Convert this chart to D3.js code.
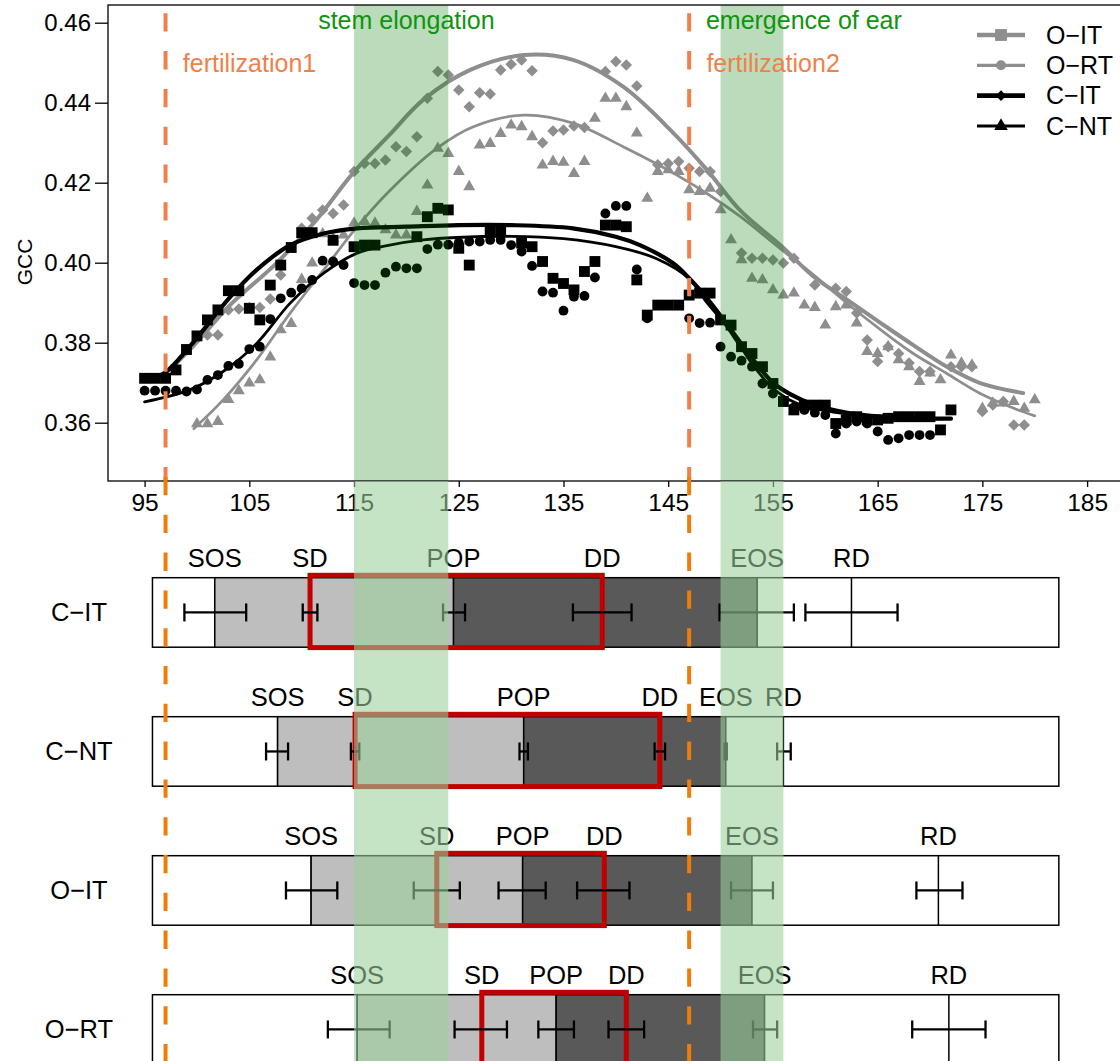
<!DOCTYPE html>
<html><head><meta charset="utf-8">
<script src="https://cdn.jsdelivr.net/npm/d3@7"></script>
<style>
body{margin:0;background:#fff}
svg{display:block}
text{font-family:"Liberation Sans",Arial,Helvetica,sans-serif}
</style>
</head><body>
<svg id="c" width="1120" height="1061"></svg>
<script>
// ---------------- DATA ----------------
const xTicks = [95,105,115,125,135,145,155,165,175,185];
const yTicks = [0.36,0.38,0.40,0.42,0.44,0.46];

const squarePts = [[95,0.3711],[96,0.3711],[97,0.3711],[98,0.3732],[99,0.3783],[100,0.3817],[101,0.3857],[102,0.3882],[103,0.3930],[104,0.3930],[105,0.3886],[106,0.3857],[107,0.3944],[108,0.3994],[109,0.4038],[110,0.4075],[111,0.4075],[113,0.4056],[115,0.4040],[116,0.4044],[117,0.4044],[121,0.4065],[122,0.4115],[123,0.4136],[124,0.4132],[125,0.4036],[126,0.3994],[128,0.4078],[129,0.4082],[131,0.4049],[132,0.4040],[133,0.4003],[134,0.3961],[135,0.3948],[136,0.3932],[137,0.3978],[138,0.4003],[139,0.4094],[140,0.4094],[141,0.4090],[142,0.3957],[143,0.3869],[144,0.3894],[145,0.3894],[146,0.3894],[147,0.3919],[148,0.3924],[149,0.3924],[150,0.3857],[151,0.3844],[152,0.3790],[153,0.3773],[154,0.3740],[155,0.3698],[156,0.3653],[157,0.3632],[158,0.3644],[159,0.3644],[160,0.3644],[161,0.3598],[162,0.3607],[163,0.3615],[164,0.3607],[165,0.3607],[166,0.3611],[167,0.3615],[168,0.3615],[169,0.3615],[170,0.3615],[171,0.3582],[172,0.3632]];

const circlePts = [[95,0.3680],[96,0.3680],[97,0.3680],[98,0.3680],[99,0.3678],[100,0.3683],[101,0.3707],[102,0.3719],[103,0.3742],[104,0.3747],[105,0.3784],[106,0.3790],[107,0.3859],[108,0.3911],[109,0.3925],[110,0.3936],[111,0.3957],[112,0.4005],[113,0.4003],[114,0.3994],[115,0.3949],[116,0.3944],[117,0.3944],[118,0.3975],[119,0.3990],[120,0.3986],[121,0.3986],[122,0.4034],[123,0.4045],[124,0.4045],[125,0.4050],[126,0.4053],[127,0.4053],[128,0.4057],[129,0.4057],[130,0.4044],[131,0.4028],[132,0.3992],[133,0.3928],[134,0.3925],[135,0.3880],[136,0.3915],[137,0.3917],[138,0.3963],[139,0.4123],[140,0.4142],[141,0.4142],[142,0.3983],[143,0.3861],[147,0.3861],[148,0.3849],[149,0.3850],[150,0.3790],[151,0.3765],[152,0.3755],[153,0.3740],[154,0.3698],[155,0.3673],[156,0.3653],[157,0.3638],[158,0.3632],[159,0.3625],[160,0.3619],[161,0.3573],[162,0.3598],[163,0.3603],[164,0.3598],[165,0.3578],[166,0.3557],[167,0.3561],[168,0.3569],[169,0.3569],[170,0.3569]];

const diamondPts = [[101,0.3819],[102,0.3819],[103,0.3882],[104,0.3884],[105,0.3888],[106,0.3888],[107,0.3909],[108,0.3969],[110,0.4086],[111,0.4111],[112,0.4132],[113,0.4123],[114,0.4144],[115,0.4228],[116,0.4248],[117,0.4248],[118,0.4257],[119,0.4290],[120,0.4278],[121,0.4315],[122,0.4411],[123,0.4478],[124,0.4469],[125,0.4432],[126,0.4390],[127,0.4425],[128,0.4422],[129,0.4482],[130,0.4496],[131,0.4507],[132,0.4480],[133,0.4300],[134,0.4329],[135,0.4332],[136,0.4342],[137,0.4338],[139,0.4478],[140,0.4503],[141,0.4494],[142,0.4442],[144,0.4245],[145,0.4248],[146,0.4253],[147,0.4236],[148,0.4228],[149,0.4228],[150,0.4178],[152,0.4024],[153,0.4011],[154,0.4011],[155,0.4007],[156,0.3999],[157,0.4011],[159,0.3944],[161,0.3936],[162,0.3928],[163,0.3874],[164,0.3807],[165,0.3753],[166,0.3790],[167,0.3773],[168,0.3749],[169,0.3728],[170,0.3728],[172,0.3740],[173,0.3740],[174,0.3740],[175,0.3628],[176,0.3644],[177,0.3653],[178,0.3594],[179,0.3594]];

const trianglePts = [[100,0.3597],[101,0.3597],[102,0.3603],[103,0.3658],[104,0.3680],[105,0.3699],[106,0.3707],[107,0.3764],[108,0.3832],[109,0.3848],[110,0.3958],[111,0.3999],[112,0.4072],[113,0.4061],[114,0.4069],[115,0.4099],[116,0.4103],[117,0.4099],[118,0.4082],[119,0.4069],[120,0.4069],[121,0.4128],[122,0.4194],[123,0.4286],[124,0.4273],[125,0.4228],[126,0.4190],[127,0.4294],[128,0.4298],[129,0.4323],[130,0.4344],[131,0.4340],[132,0.4315],[133,0.4244],[134,0.4253],[135,0.4251],[136,0.4223],[137,0.4253],[138,0.4361],[139,0.4411],[140,0.4411],[141,0.4390],[142,0.4324],[143,0.4161],[144,0.4228],[145,0.4232],[146,0.4228],[147,0.4182],[148,0.4178],[149,0.4186],[150,0.4132],[151,0.4057],[152,0.4007],[153,0.3961],[154,0.3957],[155,0.3932],[156,0.3919],[157,0.3924],[158,0.3894],[159,0.3888],[160,0.3844],[161,0.3890],[162,0.3894],[163,0.3849],[164,0.3778],[165,0.3773],[166,0.3790],[167,0.3757],[168,0.3740],[169,0.3703],[170,0.3724],[171,0.3707],[172,0.3769],[173,0.3749],[174,0.3744],[175,0.3636],[176,0.3649],[177,0.3649],[178,0.3653],[179,0.3636],[180,0.3657]];

// fitted curves
const curveGreyThick = [[97.5,0.3735],[99.6,0.3790],[103.2,0.3895],[107.6,0.3999],[111.4,0.4107],[114.9,0.4224],[118.4,0.4320],[121.6,0.4407],[126.1,0.4482],[131.2,0.4519],[135.9,0.4507],[140.7,0.4440],[145.5,0.4324],[148.7,0.4232],[151.9,0.4130],[155.7,0.4044],[158.9,0.3965],[162.1,0.3907],[165.3,0.3849],[168.4,0.3794],[171.6,0.3740],[174.8,0.3699],[178.9,0.3674]];
const curveGreyThin = [[99.7,0.3585],[102.5,0.3657],[105.7,0.3757],[108.9,0.3874],[112.1,0.3982],[115.3,0.4090],[118.4,0.4180],[122.9,0.4286],[126.4,0.4340],[131.2,0.4369],[135.9,0.4349],[140.7,0.4290],[145.5,0.4224],[148.7,0.4173],[151.9,0.4115],[155.7,0.4035],[158.9,0.3969],[162.1,0.3898],[165.3,0.3832],[168.4,0.3773],[171.6,0.3723],[174.8,0.3673],[178.0,0.3636],[180.0,0.3617]];
const curveBlackThick = [[95.5,0.3705],[97.1,0.3728],[99.3,0.3790],[103.2,0.3915],[105.7,0.3982],[108.9,0.4044],[112.1,0.4073],[115.3,0.4086],[120,0.4090],[125,0.4094],[130,0.4094],[135.9,0.4086],[140,0.4065],[142.3,0.4044],[145.5,0.3998],[147,0.3961],[148.7,0.3911],[150.3,0.3857],[151.9,0.3800],[153.5,0.3745],[155,0.3700],[156.6,0.3672],[158.9,0.3645],[162.1,0.3625],[165.3,0.3615],[168.4,0.3611],[172,0.3610]];
const curveBlackThin = [[95,0.3652],[99.3,0.3682],[102.5,0.3728],[105.7,0.3798],[108.9,0.3899],[112.1,0.3974],[115.3,0.4024],[118.4,0.4044],[121.6,0.4057],[124.8,0.4063],[130,0.4066],[135,0.4060],[140,0.4040],[143.9,0.4010],[147,0.3960],[148.7,0.3900],[150.3,0.3850],[151.9,0.3790],[153.5,0.3730],[155,0.3686],[156.6,0.3657],[158.2,0.3640],[162,0.3622],[166,0.3613],[170,0.3610],[171.5,0.3610]];

const legendLabels = ["O\u2212IT","O\u2212RT","C\u2212IT","C\u2212NT"];

const bandStart = [115,150];
const bandEnd = [124,156];
const bandLabels = ["stem elongation","emergence of ear"];
const fertDays = [97,147];
const fertLabels = ["fertilization1","fertilization2"];

const treatments = ["C\u2212IT","C\u2212NT","O\u2212IT","O\u2212RT"];
const phases = ["SOS","SD","POP","DD","EOS","RD"];
const phaseMean = [[101.7,110.8,124.5,138.7,153.5,162.5],[107.7,115.1,131.2,144.2,150.5,156.0],[110.9,122.9,131.1,138.9,153.0,170.8],[115.3,127.2,134.3,141.0,154.2,171.8]];
const phaseLo = [[98.8,110.1,123.5,135.9,149.9,158.1],[106.6,114.7,130.8,143.7,150.4,155.4],[108.5,120.7,128.8,136.3,151.0,168.7],[112.5,124.6,132.6,139.3,153.1,168.3]];
const phaseHi = [[104.7,111.5,125.6,141.5,157.0,166.9],[108.7,115.5,131.6,144.7,150.6,156.7],[113.4,125.1,133.3,141.3,155.0,173.1],[118.4,129.6,136.0,142.7,155.4,175.3]];
const barStart = 95.75, barEnd = 182.3;

// ---------------- DRAW ----------------
const svg = d3.select("#c");
const x = d3.scaleLinear().domain([95,185]).range([144.6,1087.1]);
const y = d3.scaleLinear().domain([0.36,0.46]).range([422.7,22.7]);
const plotL = 108, plotT = 5, plotR = 1125, plotB = 481;
const GREY = "#8e8e8e";
const FS = 25;

const topG = svg.append("g");
function pts(data, type, size, fill, rot){
  topG.append("g").selectAll("path").data(data).join("path")
    .attr("d", d3.symbol().type(type).size(size)())
    .attr("transform", d => `translate(${x(d[0])},${y(d[1])})${rot?` rotate(${rot})`:""}`)
    .attr("fill", fill);
}
const line = d3.line().x(d=>x(d[0])).y(d=>y(d[1])).curve(d3.curveCatmullRom.alpha(0.5));
function crv(data, color, w){
  topG.append("path").datum(data).attr("d", line).attr("fill","none")
    .attr("stroke", color).attr("stroke-width", w).attr("stroke-linecap","round");
}

pts(diamondPts, d3.symbolSquare, 66, GREY, 45);
pts(trianglePts, d3.symbolTriangle, 62, GREY);
crv(curveGreyThick, GREY, 4);
crv(curveGreyThin, GREY, 2.7);
pts(squarePts, d3.symbolSquare, 118, "#000");
pts(circlePts, d3.symbolCircle, 76, "#000");
crv(curveBlackThick, "#000", 4.2);
crv(curveBlackThin, "#000", 2.8);

// green bands (top panel)
topG.append("g").selectAll("rect").data(bandStart).join("rect")
  .attr("x", (d)=>x(d)).attr("width",(d,i)=>x(bandEnd[i])-x(d))
  .attr("y", plotT).attr("height", plotB-plotT)
  .attr("fill","rgb(0,126,0)").attr("fill-opacity",0.27);

// band labels
topG.append("text").attr("x", x(120)).attr("y", 29).attr("text-anchor","middle")
  .attr("font-size",FS).attr("fill","#0f940f").text(bandLabels[0]);
topG.append("text").attr("x", x(fertDays[1]+1.6)).attr("y", 29)
  .attr("font-size",FS).attr("fill","#0f940f").text(bandLabels[1]);

// fertilization lines (top)
topG.append("g").selectAll("line").data(fertDays).join("line")
  .attr("x1",d=>x(d)).attr("x2",d=>x(d)).attr("y1",13.3).attr("y2",plotB)
  .attr("stroke","#f0804a").attr("stroke-width",4).attr("stroke-dasharray","18.3 19.5");
topG.append("g").selectAll("text").data(fertLabels).join("text")
  .attr("x",(d,i)=>x(fertDays[i]+1.65)).attr("y",72).attr("font-size",FS)
  .attr("fill","#f0804a").text(d=>d);

// axes
const ax = svg.append("g").attr("transform",`translate(0,${plotB})`)
  .call(d3.axisBottom(x).tickValues(xTicks).tickSize(6).tickPadding(6.5).tickFormat(d3.format("d")));
ax.select(".domain").remove();
ax.selectAll("line").attr("stroke","#000").attr("stroke-width",1.3);
ax.selectAll("text").attr("font-size",24.5).attr("font-family","Liberation Sans, Arial, sans-serif").attr("fill","#000");
const ay = svg.append("g").attr("transform",`translate(${plotL},0)`)
  .call(d3.axisLeft(y).tickValues(yTicks).tickSize(13).tickPadding(4).tickFormat(d3.format(".2f")));
ay.select(".domain").remove();
ay.selectAll("line").attr("stroke","#000").attr("stroke-width",1.3);
ay.selectAll("text").attr("font-size",24).attr("font-family","Liberation Sans, Arial, sans-serif").attr("fill","#000");
svg.append("rect").attr("x",plotL).attr("y",plotT).attr("width",plotR-plotL).attr("height",plotB-plotT)
  .attr("fill","none").attr("stroke","#000").attr("stroke-width",1.3);
svg.append("text").attr("transform","translate(32,262) rotate(-90)").attr("text-anchor","middle")
  .attr("font-size",21).text("GCC");

// legend
const legStyle = [{c:GREY,w:4.6,t:d3.symbolSquare,s:140,r:0},{c:GREY,w:3.2,t:d3.symbolCircle,s:78,r:0},{c:"#000",w:4.6,t:d3.symbolSquare,s:56,r:45},{c:"#000",w:3.2,t:d3.symbolTriangle,s:80,r:0}];
const legY = d3.scalePoint().domain(legendLabels).range([35,126]);
const lg = svg.append("g").selectAll("g").data(legendLabels).join("g")
  .attr("transform", d=>`translate(0,${legY(d)})`);
lg.append("line").attr("x1",977).attr("x2",1025).attr("stroke",(d,i)=>legStyle[i].c).attr("stroke-width",(d,i)=>legStyle[i].w);
lg.append("path").attr("d",(d,i)=>d3.symbol().type(legStyle[i].t).size(legStyle[i].s)())
  .attr("transform",(d,i)=>`translate(1001,0) rotate(${legStyle[i].r})`).attr("fill",(d,i)=>legStyle[i].c);
lg.append("text").attr("x",1046).attr("y",8.8).attr("font-size",FS).text(d=>d);

// ---------------- BOTTOM: phenology bars ----------------
const rowY = d3.scaleBand().domain(treatments).range([577.7, 577.7+139*3.5]).paddingInner(0.5).paddingOuter(0);
const bh = rowY.bandwidth();
const bot = svg.append("g");
treatments.forEach((t,i)=>{
  const y0 = rowY(t), m = phaseMean[i];
  const cy = y0 + bh/2;
  const segs = [[barStart,m[0],"#fff"],[m[0],m[2],"#bebebe"],[m[2],m[4],"#595959"],[m[4],barEnd,"#fff"]];
  const g = bot.append("g");
  g.selectAll("rect").data(segs).join("rect")
    .attr("x",d=>x(d[0])).attr("width",d=>x(d[1])-x(d[0])).attr("y",y0).attr("height",bh)
    .attr("fill",d=>d[2]).attr("stroke","#000").attr("stroke-width",1.5);
  g.append("line").attr("x1",x(m[5])).attr("x2",x(m[5])).attr("y1",y0).attr("y2",y0+bh)
    .attr("stroke","#000").attr("stroke-width",1.5);
  g.append("rect").attr("x",x(m[1])).attr("width",x(m[3])-x(m[1])).attr("y",y0-2.4).attr("height",bh+2.8)
    .attr("fill","none").attr("stroke","#c00000").attr("stroke-width",5);
  phases.forEach((p,j)=>{
    const lo = x(phaseLo[i][j]), hi = x(phaseHi[i][j]);
    g.append("line").attr("x1",lo).attr("x2",hi).attr("y1",cy).attr("y2",cy).attr("stroke","#000").attr("stroke-width",2.3);
    [lo,hi].forEach(v=>g.append("line").attr("x1",v).attr("x2",v).attr("y1",cy-9).attr("y2",cy+9).attr("stroke","#000").attr("stroke-width",2.3));
    g.append("text").attr("x",x(m[j])).attr("y",y0-11).attr("text-anchor","middle").attr("font-size",25.5).text(p);
  });
  g.append("text").attr("x",79).attr("y",cy+9).attr("text-anchor","middle").attr("font-size",25.5).text(t);
});
bot.append("g").selectAll("rect").data(bandStart).join("rect")
  .attr("x", (d)=>x(d)).attr("width",(d,i)=>x(bandEnd[i])-x(d))
  .attr("y", plotB).attr("height", 1061-plotB)
  .attr("fill","rgb(155,207,155)").attr("fill-opacity",0.58);
bot.append("g").selectAll("line").data(fertDays).join("line")
  .attr("x1",d=>x(d)).attr("x2",d=>x(d)).attr("y1",477).attr("y2",1061)
  .attr("stroke","#ee7d0c").attr("stroke-width",4).attr("stroke-dasharray","18.3 19.5");
</script>
</body></html>
